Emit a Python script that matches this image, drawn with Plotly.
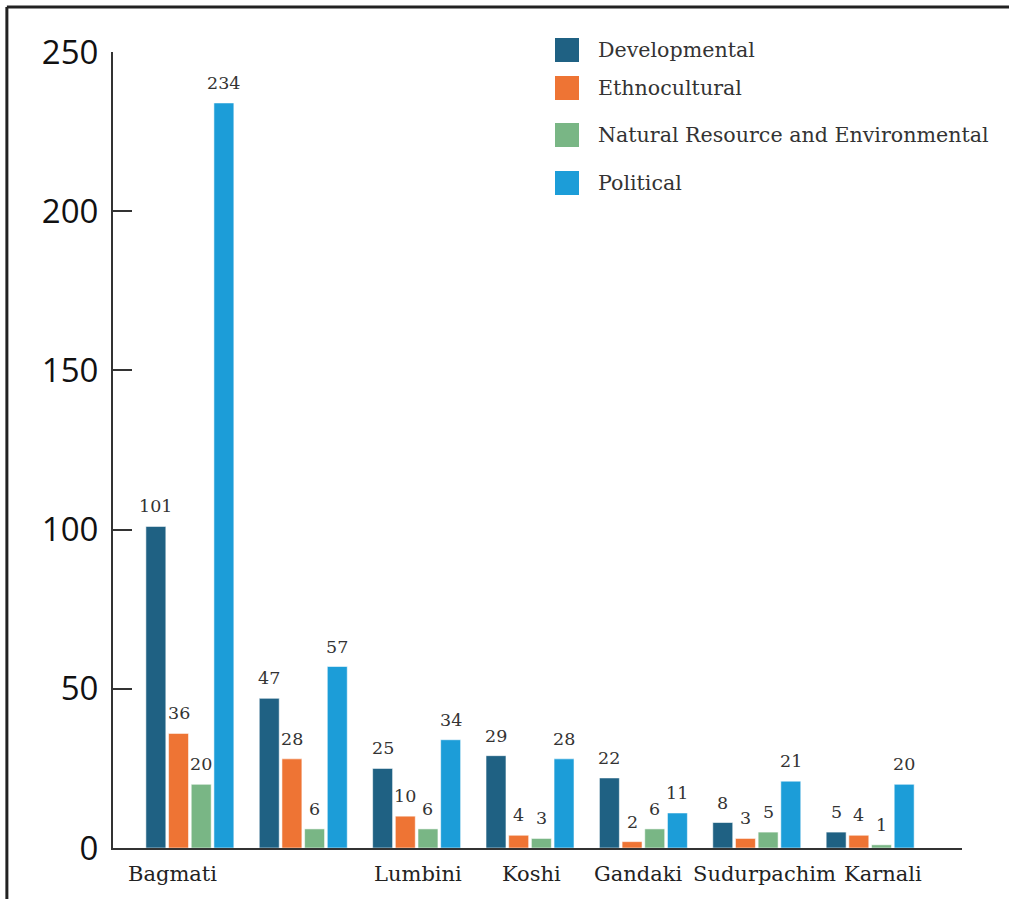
import plotly.graph_objects as go

# Provinces along the x axis (second group carries no printed label)
provinces = ["Bagmati", "", "Lumbini", "Koshi", "Gandaki", "Sudurpachim", "Karnali"]

# Counts per category for each province
developmental = [101, 47, 25, 29, 22, 8, 5]
ethnocultural = [36, 28, 10, 4, 2, 3, 4]
natural_resource = [20, 6, 6, 3, 6, 5, 1]
political = [234, 57, 34, 28, 11, 21, 20]

series_names = ["Developmental", "Ethnocultural",
                "Natural Resource and Environmental", "Political"]
series_values = [developmental, ethnocultural, natural_resource, political]
series_colors = ["#1f6183", "#ee7434", "#79b685", "#1c9dd8"]

# horizontal nudge (px) of each province label under its group
label_shift = [-17, 0, 1, 1, -5, 8, 13]
# vertical centre of each legend row, in paper units
legend_rows = [1.0025, 0.9548, 0.8957, 0.8354]

x_pos = list(range(len(provinces)))
serif = "DejaVu Serif"
bargap = 0.2
n_series = len(series_names)
slot = (1 - bargap) / n_series

fig = go.Figure()
annotations = []
for k, (name, vals, color) in enumerate(zip(series_names, series_values, series_colors)):
    fig.add_trace(go.Bar(
        x=x_pos, y=vals, name=name,
        marker=dict(color=color, line=dict(color="rgba(255,255,255,0.55)", width=1)),
        showlegend=False,
    ))
    # value label above each bar, at the centre of its slot in the group
    off = (k - (n_series - 1) / 2) * slot
    for xp, v in zip(x_pos, vals):
        annotations.append(dict(xref="x", yref="y", x=xp + off, y=v,
                                xanchor="center", yanchor="bottom", yshift=8,
                                showarrow=False, text=str(v),
                                font=dict(family=serif, size=17.5, color="#333333")))

shapes = [
    # outer frame (top and left edges)
    dict(type="line", xref="paper", yref="paper", x0=-0.125, x1=1.06,
         y0=1.0565, y1=1.0565, line=dict(color="#222222", width=3)),
    dict(type="line", xref="paper", yref="paper", x0=-0.125, x1=-0.125,
         y0=1.0565, y1=-0.07, line=dict(color="#222222", width=3)),
]

# legend: colour swatch plus series name per row
half = 12 / 796
for name, color, yc in zip(series_names, series_colors, legend_rows):
    shapes.append(dict(type="rect", xref="paper", yref="paper",
                       x0=0.5206, x1=0.5489, y0=yc - half, y1=yc + half,
                       fillcolor=color, line=dict(width=0)))
    annotations.append(dict(xref="paper", yref="paper", x=0.5690, y=yc,
                            xanchor="left", yanchor="middle", showarrow=False,
                            text=name, font=dict(family=serif, size=20.6, color="#333333")))

# province labels under each group
for xp, lab, dx in zip(x_pos, provinces, label_shift):
    if lab:
        annotations.append(dict(xref="x", yref="paper", x=xp, y=-0.033,
                                xshift=dx, xanchor="center", yanchor="middle",
                                showarrow=False, text=lab,
                                font=dict(family=serif, size=21, color="#222222")))

fig.update_layout(
    width=1009, height=899,
    margin=dict(l=113, r=47, t=52, b=51),
    paper_bgcolor="white", plot_bgcolor="white",
    barmode="group", bargap=bargap, bargroupgap=0.12,
    showlegend=False,
    xaxis=dict(
        range=[-0.678, 6.81], tickvals=x_pos, showticklabels=False,
        showline=True, linecolor="#333333", linewidth=2,
        showgrid=False, zeroline=False, ticks="",
    ),
    yaxis=dict(
        range=[0, 250], tickvals=[0, 50, 100, 150, 200, 250],
        showline=True, linecolor="#333333", linewidth=2,
        showgrid=False, zeroline=False,
        ticks="inside", ticklen=19, tickwidth=2, tickcolor="#333333",
        ticklabelstandoff=6,
        tickfont=dict(family="Open Sans", size=33, color="#111111"),
    ),
    shapes=shapes,
    annotations=annotations,
)

fig.write_html("out.html")
